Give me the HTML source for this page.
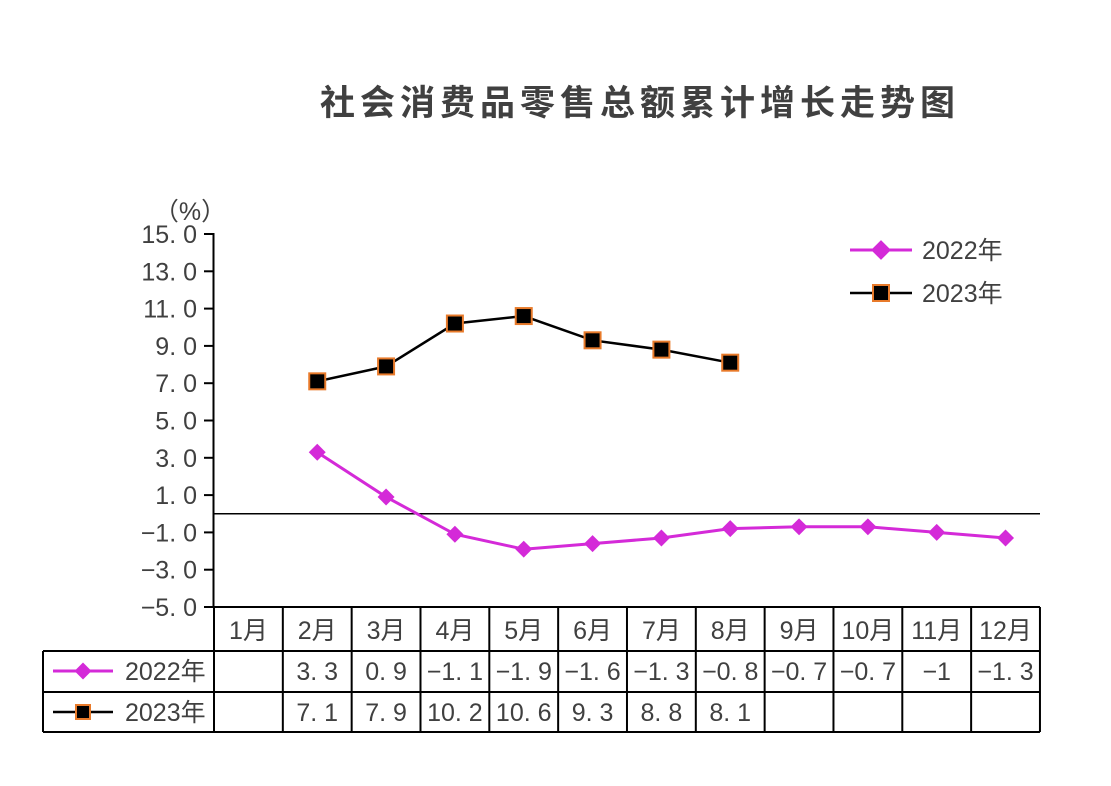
<!DOCTYPE html>
<html><head><meta charset="utf-8"><style>
body{margin:0;background:#fff;}
svg text{font-family:"Liberation Sans","Noto Sans CJK SC",sans-serif;fill:#404040;}
</style></head><body>
<svg width="1111" height="781">
<text x="640" y="115" text-anchor="middle" font-size="35" font-weight="bold" letter-spacing="5">社会消费品零售总额累计增长走势图</text>
<text x="190" y="220" text-anchor="middle" font-size="25">（%）</text>
<g id="axes"></g>
<g id="table"></g>
<g id="series"></g>
<g>
<line x1="850" y1="250" x2="912" y2="250" stroke="#d42ad8" stroke-width="3"/>
<rect x="874" y="243" width="14" height="14" fill="#d42ad8" transform="rotate(45 881 250)"/>
<text x="922" y="259" font-size="25">2022年</text>
<line x1="850" y1="293" x2="912" y2="293" stroke="#000" stroke-width="2.5"/>
<rect x="873" y="285" width="16" height="16" fill="#000" stroke="#e87a2a" stroke-width="2"/>
<text x="922" y="302" font-size="25">2023年</text>
</g>
</svg>
<script>
const months=["1月","2月","3月","4月","5月","6月","7月","8月","9月","10月","11月","12月"];
const s2022=[null,3.3,0.9,-1.1,-1.9,-1.6,-1.3,-0.8,-0.7,-0.7,-1,-1.3];
const s2023=[null,7.1,7.9,10.2,10.6,9.3,8.8,8.1,null,null,null,null];
const yTicks=[15,13,11,9,7,5,3,1,-1,-3,-5];
const NS="http://www.w3.org/2000/svg";
const x0=214,cw=68.83,yTop=234,yBot=607;
const y=v=>yBot-(v+5)/20*(yBot-yTop);
const x=i=>x0+cw*(i+0.5);
function mk(p,t,a){const e=document.createElementNS(NS,t);for(const k in a)e.setAttribute(k,a[k]);p.appendChild(e);return e;}
const fmt=v=>{if(v===null)return "";let s=Number.isInteger(v)?String(v):v.toFixed(1);return s.replace("-","−").replace(".",". ");};
const ax=document.getElementById('axes');
let l=mk(ax,'line',{x1:213.5,y1:yTop-1,x2:213.5,y2:yBot,stroke:'#000','stroke-width':2});

l=mk(ax,'line',{x1:213.5,y1:y(0),x2:1040,y2:y(0),stroke:'#000','stroke-width':1.5});

yTicks.forEach(v=>{
 mk(ax,'line',{x1:204,y1:y(v),x2:213,y2:y(v),stroke:'#000','stroke-width':2});
 const t=mk(ax,'text',{x:197,y:y(v)+9,'text-anchor':'end','font-size':25});
 t.textContent=(v<0?"−":"")+Math.abs(v).toFixed(1).replace(".",". ");
 
});
const tb=document.getElementById('table');
const xr=x0+cw*12;
mk(tb,'line',{x1:x0,y1:607,x2:xr,y2:607,stroke:'#000','stroke-width':2});
[651,692,732].forEach(r=>mk(tb,'line',{x1:43,y1:r,x2:xr,y2:r,stroke:'#000','stroke-width':2}));
mk(tb,'line',{x1:43,y1:651,x2:43,y2:732,stroke:'#000','stroke-width':2});
for(let i=0;i<=12;i++)mk(tb,'line',{x1:x0+cw*i,y1:607,x2:x0+cw*i,y2:732,stroke:'#000','stroke-width':2});
months.forEach((m,i)=>{const t=mk(tb,'text',{x:x(i),y:639,'text-anchor':'middle','font-size':25});t.textContent=m;
 });
s2022.forEach((v,i)=>{const t=mk(tb,'text',{x:x(i),y:680,'text-anchor':'middle','font-size':25});t.textContent=fmt(v);
 });
s2023.forEach((v,i)=>{const t=mk(tb,'text',{x:x(i),y:721,'text-anchor':'middle','font-size':25});t.textContent=fmt(v);
 });
mk(tb,'line',{x1:53,y1:671,x2:113,y2:671,stroke:'#d42ad8','stroke-width':3});
mk(tb,'rect',{x:77,y:665,width:12,height:12,fill:'#d42ad8',transform:'rotate(45 83 671)'});
let t=mk(tb,'text',{x:125,y:680,'font-size':25});t.textContent="2022年";

mk(tb,'line',{x1:53,y1:712,x2:113,y2:712,stroke:'#000','stroke-width':2.5});
mk(tb,'rect',{x:76,y:705,width:14,height:14,fill:'#000',stroke:'#e87a2a','stroke-width':2});
t=mk(tb,'text',{x:125,y:721,'font-size':25});t.textContent="2023年";

const sg=document.getElementById('series');
function line(arr,color,w,name){const pts=arr.map((v,i)=>v===null?null:[x(i),y(v)]).filter(p=>p);
 const p=mk(sg,'polyline',{points:pts.map(p=>p.join(',')).join(' '),fill:'none',stroke:color,'stroke-width':w});
 return pts;}
line(s2022,'#d42ad8',3,'line-2022').forEach(p=>{const r=mk(sg,'rect',{x:p[0]-6,y:p[1]-6,width:12,height:12,fill:'#d42ad8',transform:`rotate(45 ${p[0]} ${p[1]})`});
 });
line(s2023,'#000',2.5,'line-2023').forEach(p=>{const r=mk(sg,'rect',{x:p[0]-8,y:p[1]-8,width:16,height:16,fill:'#000',stroke:'#e87a2a','stroke-width':2});
 });
</script>
</body></html>
